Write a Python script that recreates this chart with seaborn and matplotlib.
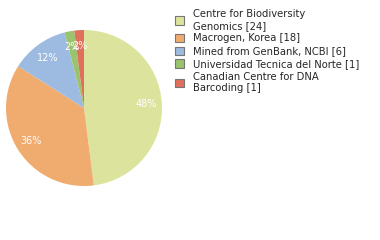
import matplotlib
matplotlib.use("Agg")
import matplotlib.pyplot as plt
import seaborn as sns

sns.set_style("white")
plt.rcParams['font.family'] = ['DejaVu Sans']

labels = ["Centre for Biodiversity\nGenomics [24]",
          "Macrogen, Korea [18]",
          "Mined from GenBank, NCBI [6]",
          "Universidad Tecnica del Norte [1]",
          "Canadian Centre for DNA\nBarcoding [1]"]
counts = [24, 18, 6, 1, 1]
colors = ["#dce39d", "#f0ac6f", "#9dbbe0", "#9ac36d", "#e0705b"]

fig = plt.figure(figsize=(3.8, 2.4), dpi=100)
ax = fig.add_axes([6 / 380, 54 / 240, 156 / 380, 156 / 240])

wedges, texts, autotexts = ax.pie(counts, colors=colors, startangle=90, counterclock=False,
                                  autopct='%.0f%%', pctdistance=0.8,
                                  wedgeprops={'linewidth': 0},
                                  textprops={'color': 'white', 'fontsize': 7})
ax.set_xlim(-1, 1)
ax.set_ylim(-1, 1)
ax.set_aspect('equal')

leg = fig.legend(wedges, labels, loc='upper left', bbox_to_anchor=(168 / 380, 1 - 2 / 240),
                 frameon=False, fontsize=7.2, handlelength=0.9, handleheight=0.9,
                 handletextpad=0.9, labelspacing=0.28, borderpad=0.2)
for h in leg.legend_handles:
    h.set_edgecolor('#777777')
    h.set_linewidth(0.8)

fig.savefig("out.png", dpi=100)
